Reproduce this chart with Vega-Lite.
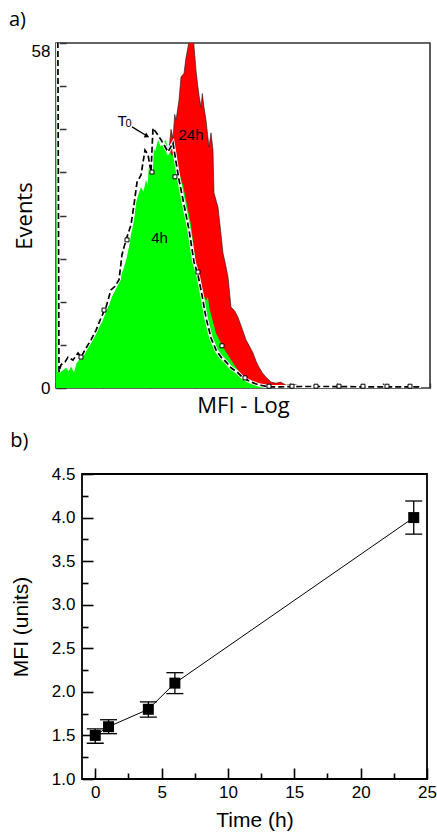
{
  "$schema": "https://vega.github.io/schema/vega-lite/v6.json",
  "background": "white",
  "padding": {"top": 9, "left": 6, "right": 0, "bottom": 0},
  "spacing": 13,
  "datasets": {
    "red": [
      {"x":0.1,"y":0},{"x":0.5,"y":1.5},{"x":1.0,"y":6},{"x":1.5,"y":14},{"x":2.0,"y":27},{"x":2.3,"y":35},{"x":2.417,"y":40.0},{"x":2.46,"y":43.5},{"x":2.503,"y":42.0},{"x":2.54,"y":46.0},{"x":2.567,"y":45.0},{"x":2.631,"y":48.4},{"x":2.674,"y":52.3},{"x":2.738,"y":52.9},{"x":2.78,"y":55.5},{"x":2.824,"y":57.3},{"x":2.866,"y":59.5},{"x":2.93,"y":59.5},{"x":2.995,"y":53.4},{"x":3.03,"y":51.0},{"x":3.059,"y":49.2},{"x":3.102,"y":47.2},{"x":3.13,"y":49.5},{"x":3.166,"y":47.2},{"x":3.209,"y":45.0},{"x":3.273,"y":40.5},{"x":3.316,"y":42.9},{"x":3.358,"y":40.0},{"x":3.38,"y":32.8},{"x":3.465,"y":30.4},{"x":3.508,"y":27.4},{"x":3.572,"y":22.7},{"x":3.62,"y":21.0},{"x":3.679,"y":18.7},{"x":3.743,"y":13.6},{"x":3.82,"y":13.0},{"x":3.893,"y":11.9},{"x":3.98,"y":10.0},{"x":4.064,"y":8.1},{"x":4.14,"y":7.0},{"x":4.214,"y":5.9},{"x":4.28,"y":4.5},{"x":4.342,"y":3.5},{"x":4.42,"y":2.5},{"x":4.492,"y":1.8},{"x":4.6,"y":1.0},{"x":4.706,"y":0.8},{"x":4.8,"y":1.0},{"x":4.92,"y":0.5},{"x":5.1,"y":0.6},{"x":5.283,"y":0.2},{"x":5.45,"y":0.4},{"x":5.668,"y":0.2},{"x":5.9,"y":0.3},{"x":6.16,"y":0.1},{"x":6.31,"y":0}
    ],
    "green": [
      {"x":0,"y":0},{"x":0.015,"y":58},{"x":0.05,"y":58},{"x":0.08,"y":2.6},{"x":0.15,"y":3.0},{"x":0.214,"y":3.4},{"x":0.27,"y":2.8},{"x":0.321,"y":3.6},{"x":0.385,"y":2.6},{"x":0.44,"y":4.2},{"x":0.492,"y":4.7},{"x":0.55,"y":5.5},{"x":0.599,"y":6.4},{"x":0.65,"y":7.5},{"x":0.706,"y":7.2},{"x":0.76,"y":8.4},{"x":0.813,"y":8.6},{"x":0.87,"y":9.9},{"x":0.92,"y":10.3},{"x":0.98,"y":11.0},{"x":1.027,"y":11.9},{"x":1.08,"y":13.2},{"x":1.134,"y":13.9},{"x":1.19,"y":15.2},{"x":1.241,"y":16.0},{"x":1.3,"y":17.0},{"x":1.348,"y":18.2},{"x":1.39,"y":19.0},{"x":1.433,"y":19.8},{"x":1.5,"y":21.5},{"x":1.561,"y":23.7},{"x":1.61,"y":26.0},{"x":1.668,"y":28.2},{"x":1.711,"y":31.1},{"x":1.76,"y":32.5},{"x":1.818,"y":33.8},{"x":1.87,"y":33.0},{"x":1.925,"y":35.0},{"x":1.96,"y":34.0},{"x":1.989,"y":37.8},{"x":2.03,"y":38.5},{"x":2.075,"y":40.5},{"x":2.12,"y":39.8},{"x":2.182,"y":41.7},{"x":2.24,"y":40.6},{"x":2.289,"y":41.2},{"x":2.353,"y":41.7},{"x":2.39,"y":40.2},{"x":2.417,"y":40.5},{"x":2.47,"y":39.0},{"x":2.524,"y":39.5},{"x":2.58,"y":37.5},{"x":2.631,"y":36.1},{"x":2.717,"y":34.1},{"x":2.802,"y":30.8},{"x":2.888,"y":27.4},{"x":2.95,"y":23.5},{"x":2.995,"y":20.7},{"x":3.05,"y":18.5},{"x":3.102,"y":16.5},{"x":3.16,"y":15.5},{"x":3.209,"y":14.8},{"x":3.251,"y":15.3},{"x":3.28,"y":13.5},{"x":3.316,"y":12.3},{"x":3.37,"y":10.8},{"x":3.422,"y":9.2},{"x":3.5,"y":8.0},{"x":3.572,"y":6.9},{"x":3.68,"y":5.5},{"x":3.786,"y":4.2},{"x":3.9,"y":2.9},{"x":4.0,"y":1.8},{"x":4.14,"y":1.2},{"x":4.278,"y":0.8},{"x":4.42,"y":0.5},{"x":4.556,"y":0.3},{"x":4.75,"y":0.15},{"x":4.92,"y":0},{"x":8,"y":0}
    ],
    "t0": [
      {"x":0.02,"y":58},{"x":0.04,"y":58},{"x":0.064,"y":2.7},{"x":0.107,"y":3.9},{"x":0.193,"y":4.4},{"x":0.257,"y":5.2},{"x":0.364,"y":4.7},{"x":0.471,"y":5.9},{"x":0.535,"y":5.2},{"x":0.642,"y":6.7},{"x":0.749,"y":8.1},{"x":0.856,"y":9.7},{"x":0.963,"y":11.8},{"x":1.07,"y":13.6},{"x":1.176,"y":16.5},{"x":1.262,"y":17.1},{"x":1.348,"y":18.2},{"x":1.412,"y":22.4},{"x":1.497,"y":24.9},{"x":1.604,"y":27.4},{"x":1.668,"y":30.8},{"x":1.733,"y":34.6},{"x":1.818,"y":35.8},{"x":1.904,"y":40.0},{"x":1.968,"y":39.2},{"x":2.032,"y":36.3},{"x":2.075,"y":43.7},{"x":2.182,"y":42.5},{"x":2.289,"y":41.2},{"x":2.396,"y":39.7},{"x":2.503,"y":41.2},{"x":2.567,"y":38.0},{"x":2.631,"y":35.0},{"x":2.738,"y":30.8},{"x":2.845,"y":26.6},{"x":2.952,"y":21.2},{"x":3.037,"y":19.0},{"x":3.123,"y":15.6},{"x":3.209,"y":11.8},{"x":3.316,"y":8.4},{"x":3.422,"y":6.4},{"x":3.529,"y":5.2},{"x":3.636,"y":4.4},{"x":3.743,"y":3.4},{"x":3.872,"y":2.7},{"x":4.0,"y":1.7},{"x":4.171,"y":1.0},{"x":4.342,"y":0.5},{"x":4.556,"y":0.2},{"x":4.813,"y":0.2},{"x":5.241,"y":0.25},{"x":5.882,"y":0.25},{"x":6.524,"y":0.2},{"x":7.166,"y":0.2},{"x":7.807,"y":0.2}
    ],
    "marks": [
      {"x":0.535,"y":5.2},{"x":1.027,"y":13.1},{"x":1.519,"y":24.9},{"x":2.053,"y":36.3},{"x":2.545,"y":35.5},{"x":3.037,"y":19.5},{"x":3.551,"y":7.1},{"x":4.043,"y":1.7},{"x":4.556,"y":0.3},{"x":5.048,"y":0.3},{"x":5.561,"y":0.3},{"x":6.053,"y":0.3},{"x":6.567,"y":0.3},{"x":7.08,"y":0.3},{"x":7.572,"y":0.3}
    ],
    "labels": [
      {"x":1.412,"y":44.9,"text":"T"},{"x":2.888,"y":42.6,"text":"24h"},{"x":2.214,"y":25.2,"text":"4h"}
    ],
    "subs": [
      {"x":1.55,"y":44.45,"text":"0"}
    ],
    "arrow": [
      {"x":1.626,"y":43.9,"x2":1.93,"y2":42.45}
    ],
    "head": [
      {"x":1.947,"y":42.35}
    ],
    "mfi": [
      {"t":0,"m":1.5,"lo":1.41,"hi":1.575},
      {"t":1,"m":1.6,"lo":1.52,"hi":1.68},
      {"t":4,"m":1.8,"lo":1.71,"hi":1.885},
      {"t":6,"m":2.1,"lo":1.98,"hi":2.22},
      {"t":24,"m":4.0,"lo":3.81,"hi":4.19}
    ]
  },
  "vconcat": [
    {"spacing": 0, "hconcat": [
    {"width": 2, "height": 1, "view": {"stroke": null}, "data": {"values": []}, "mark": {"type": "point", "opacity": 0}, "encoding": {}},
    {
      "title": {"text": "a)", "anchor": "start", "font": "Open Sans", "fontSize": 20, "fontWeight": "normal", "color": "black", "offset": 12, "dx": -4},
      "width": 374,
      "height": 345,
      "view": {"stroke": "#333333", "strokeWidth": 1.6},
      "resolve": {"axis": {"x": "independent", "y": "independent"}},
      "layer": [
        {
          "data": {"name": "red"},
          "mark": {"type": "area", "color": "#ff0000", "stroke": "#1a1a1a", "strokeWidth": 0.6, "clip": true},
          "encoding": {
            "x": {"field": "x", "type": "quantitative", "scale": {"domain": [0, 8], "nice": false, "zero": false},
              "axis": {"orient": "bottom", "labels": false, "ticks": false, "domain": false, "title": "MFI - Log", "titleFont": "Open Sans", "titleFontSize": 22, "titlePadding": 7}},
            "y": {"field": "y", "type": "quantitative", "scale": {"domain": [0, 58], "nice": false},
              "axis": {"orient": "left", "values": [0, 56.5], "labelExpr": "datum.value > 50 ? '58' : '0'", "ticks": false, "domain": false, "labelFontSize": 17, "labelPadding": 6, "title": "Events", "titleFont": "Open Sans", "titleFontSize": 22, "titleX": -20}}
          }
        },
        {
          "data": {"name": "green"},
          "mark": {"type": "area", "color": "#00ff00", "clip": true},
          "encoding": {
            "x": {"field": "x", "type": "quantitative", "scale": {"domain": [0, 8], "nice": false, "zero": false},
              "axis": {"orient": "bottom", "values": [0,1,2,3,4,5,6,7,8], "labels": false, "domain": false, "tickSize": -5, "tickColor": "#333333", "tickWidth": 1.3, "title": null}},
            "y": {"field": "y", "type": "quantitative", "scale": {"domain": [0, 58], "nice": false},
              "axis": {"orient": "left", "values": [0,7.25,14.5,21.75,29,36.25,43.5,50.75,58], "labels": false, "domain": false, "tickSize": -10, "tickColor": "#333333", "tickWidth": 1.5, "title": null}}
          }
        },
        {
          "data": {"name": "t0"},
          "mark": {"type": "line", "color": "white", "strokeWidth": 3.5, "clip": true},
          "encoding": {
            "x": {"field": "x", "type": "quantitative", "axis": null},
            "y": {"field": "y", "type": "quantitative", "axis": null}
          }
        },
        {
          "data": {"name": "t0"},
          "mark": {"type": "line", "color": "black", "strokeWidth": 1.7, "strokeDash": [6, 3], "clip": true},
          "encoding": {
            "x": {"field": "x", "type": "quantitative", "axis": null},
            "y": {"field": "y", "type": "quantitative", "axis": null}
          }
        },
        {
          "data": {"name": "marks"},
          "mark": {"type": "point", "shape": "square", "size": 16, "filled": true, "fill": "white", "stroke": "black", "strokeWidth": 1, "opacity": 1},
          "encoding": {
            "x": {"field": "x", "type": "quantitative", "axis": null},
            "y": {"field": "y", "type": "quantitative", "axis": null}
          }
        },
        {
          "data": {"name": "labels"},
          "mark": {"type": "text", "font": "Liberation Sans", "fontSize": 15, "color": "black"},
          "encoding": {
            "x": {"field": "x", "type": "quantitative", "axis": null},
            "y": {"field": "y", "type": "quantitative", "axis": null},
            "text": {"field": "text"}
          }
        },
        {
          "data": {"name": "subs"},
          "mark": {"type": "text", "font": "Liberation Sans", "fontSize": 11, "color": "black"},
          "encoding": {
            "x": {"field": "x", "type": "quantitative", "axis": null},
            "y": {"field": "y", "type": "quantitative", "axis": null},
            "text": {"field": "text"}
          }
        },
        {
          "data": {"name": "arrow"},
          "mark": {"type": "rule", "color": "black", "strokeWidth": 1.3},
          "encoding": {
            "x": {"field": "x", "type": "quantitative", "axis": null},
            "y": {"field": "y", "type": "quantitative", "axis": null},
            "x2": {"field": "x2"},
            "y2": {"field": "y2"}
          }
        },
        {
          "data": {"name": "head"},
          "mark": {"type": "point", "shape": "triangle-right", "angle": 27, "size": 30, "filled": true, "color": "black", "opacity": 1},
          "encoding": {
            "x": {"field": "x", "type": "quantitative", "axis": null},
            "y": {"field": "y", "type": "quantitative", "axis": null}
          }
        }
      ]
    }]},
    {"spacing": 0, "hconcat": [
    {"width": 3, "height": 1, "view": {"stroke": null}, "data": {"values": []}, "mark": {"type": "point", "opacity": 0}, "encoding": {}},
    {
      "title": {"text": "b)", "anchor": "start", "font": "Open Sans", "fontSize": 20, "fontWeight": "normal", "color": "black", "offset": 14},
      "width": 345,
      "height": 305,
      "view": {"stroke": "black", "strokeWidth": 1.8},
      "data": {"name": "mfi"},
      "resolve": {"axis": {"x": "independent", "y": "independent"}},
      "layer": [
        {
          "mark": {"type": "rule", "color": "black", "strokeWidth": 1.3},
          "encoding": {
            "x": {"field": "t", "type": "quantitative", "scale": {"domain": [-1, 25], "nice": false, "zero": false},
              "axis": {"orient": "bottom", "values": [0,5,10,15,20,25], "ticks": false, "domain": false, "labelFontSize": 17, "labelPadding": 5, "labelFlush": false, "title": "Time (h)", "titleFontSize": 21, "titlePadding": 9}},
            "y": {"field": "lo", "type": "quantitative", "scale": {"domain": [1, 4.5], "nice": false, "zero": false},
              "axis": {"orient": "left", "values": [1,1.5,2,2.5,3,3.5,4,4.5], "format": ".1f", "ticks": false, "domain": false, "labelFontSize": 17, "labelPadding": 7, "title": "MFI (units)", "titleFontSize": 21, "titlePadding": 20}},
            "y2": {"field": "hi"}
          }
        },
        {
          "mark": {"type": "tick", "orient": "horizontal", "size": 17, "thickness": 1.3, "color": "black", "opacity": 1},
          "encoding": {
            "x": {"field": "t", "type": "quantitative", "scale": {"domain": [-1, 25], "nice": false, "zero": false},
              "axis": {"orient": "bottom", "values": [0,5,10,15,20,25], "labels": false, "domain": false, "tickSize": -11, "tickWidth": 1.6, "title": null}},
            "y": {"field": "lo", "type": "quantitative", "scale": {"domain": [1, 4.5], "nice": false, "zero": false},
              "axis": {"orient": "left", "values": [1,1.5,2,2.5,3,3.5,4,4.5], "labels": false, "domain": false, "tickSize": -11, "tickWidth": 1.6, "title": null}}
          }
        },
        {
          "mark": {"type": "tick", "orient": "horizontal", "size": 17, "thickness": 1.3, "color": "black", "opacity": 1},
          "encoding": {
            "x": {"field": "t", "type": "quantitative", "scale": {"domain": [-1, 25], "nice": false, "zero": false},
              "axis": {"orient": "bottom", "values": [2.5,7.5,12.5,17.5,22.5], "labels": false, "domain": false, "tickSize": -6, "tickWidth": 1.6, "title": null}},
            "y": {"field": "hi", "type": "quantitative", "scale": {"domain": [1, 4.5], "nice": false, "zero": false},
              "axis": {"orient": "left", "values": [1.25,1.75,2.25,2.75,3.25,3.75,4.25], "labels": false, "domain": false, "tickSize": -6, "tickWidth": 1.6, "title": null}}
          }
        },
        {
          "mark": {"type": "line", "color": "black", "strokeWidth": 1},
          "encoding": {
            "x": {"field": "t", "type": "quantitative", "axis": null},
            "y": {"field": "m", "type": "quantitative", "axis": null}
          }
        },
        {
          "mark": {"type": "point", "shape": "square", "size": 121, "filled": true, "color": "black", "opacity": 1},
          "encoding": {
            "x": {"field": "t", "type": "quantitative", "axis": null},
            "y": {"field": "m", "type": "quantitative", "axis": null}
          }
        }
      ]
    }]}
  ],
  "config": {
    "axis": {"grid": false, "labelFont": "Liberation Sans", "titleFont": "Liberation Sans", "titleFontWeight": "normal", "labelColor": "black", "titleColor": "black", "tickColor": "black"},
    "title": {"color": "black"}
  }
}
